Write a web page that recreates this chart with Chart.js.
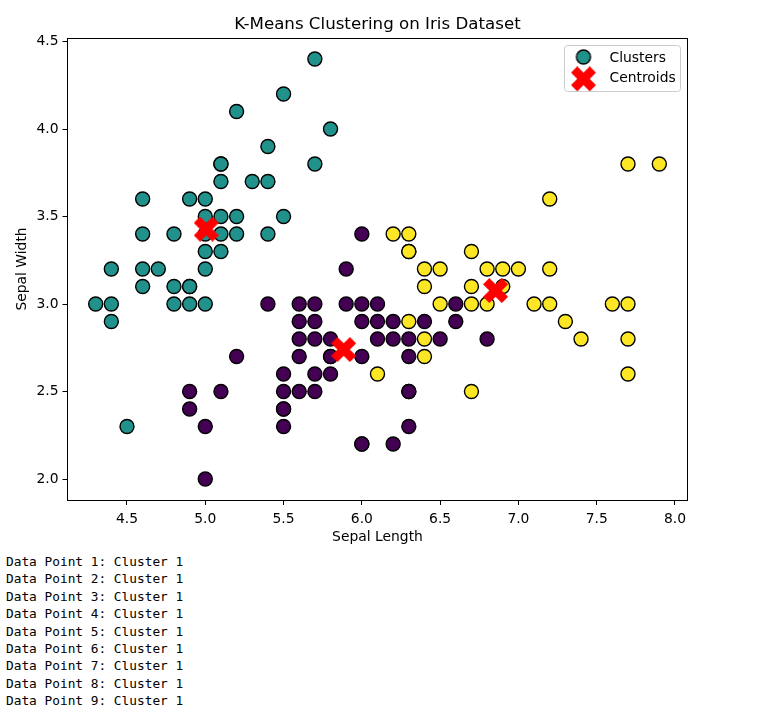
<!DOCTYPE html>
<html>
<head>
<meta charset="utf-8">
<script src="https://cdn.jsdelivr.net/npm/chart.js@4/dist/chart.umd.min.js"></script>
<style>
html,body{margin:0;padding:0;background:#fff;overflow:hidden;width:782px;height:705px}
#wrap{position:absolute;left:0;top:0;width:782px;height:545px}
#out{position:absolute;left:6px;top:553px;margin:0;font:12.8px/17.4px "DejaVu Sans Mono",monospace;color:#000}
</style>
</head>
<body>
<div id="wrap"><canvas id="c" width="782" height="545"></canvas></div>
<pre id="out"></pre>
<script>
// Cluster values
const purpleX = [6.0,5.9,5.4,5.6,5.7,5.9,6.0,6.1,6.6,5.6,5.7,6.0,6.1,6.2,6.4,6.6,5.6,5.7,5.8,6.1,6.2,6.3,6.5,6.8,5.2,5.6,5.8,6.0,6.3,5.5,5.7,5.8,4.9,5.1,5.5,5.6,5.7,6.3,6.3,4.9,5.5,5.5,5.0,5.5,6.3,6.0,6.0,6.2,5.0,5.8];
const purpleY = [3.4,3.2,3.0,3.0,3.0,3.0,3.0,3.0,3.0,2.9,2.9,2.9,2.9,2.9,2.9,2.9,2.8,2.8,2.8,2.8,2.8,2.8,2.8,2.8,2.7,2.7,2.7,2.7,2.7,2.6,2.6,2.6,2.5,2.5,2.5,2.5,2.5,2.5,2.5,2.4,2.4,2.4,2.3,2.3,2.3,2.2,2.2,2.2,2.0,2.7];
const tealX = [5.7,5.5,5.2,5.8,5.4,5.1,5.1,5.7,5.1,5.3,5.4,4.6,4.9,5.0,5.0,5.1,5.2,5.5,4.6,4.8,5.0,5.1,5.2,5.4,5.0,5.1,4.4,4.6,4.7,5.0,4.6,4.8,4.9,4.9,4.3,4.4,4.8,4.9,5.0,4.4,4.5];
const tealY = [4.4,4.2,4.1,4.0,3.9,3.8,3.8,3.8,3.7,3.7,3.7,3.6,3.6,3.6,3.5,3.5,3.5,3.5,3.4,3.4,3.4,3.4,3.4,3.4,3.3,3.3,3.2,3.2,3.2,3.2,3.1,3.1,3.1,3.1,3.0,3.0,3.0,3.0,3.0,2.9,2.3];
const yellowX = [7.7,7.9,7.2,6.2,6.3,6.3,6.3,6.7,6.4,6.5,6.8,6.9,7.0,7.2,6.4,6.7,6.9,6.5,6.7,6.8,7.1,7.2,7.6,7.7,6.3,7.3,6.4,7.4,7.7,6.4,6.1,7.7,6.7];
const yellowY = [3.8,3.8,3.6,3.4,3.4,3.3,3.3,3.3,3.2,3.2,3.2,3.2,3.2,3.2,3.1,3.1,3.1,3.0,3.0,3.0,3.0,3.0,3.0,3.0,2.9,2.9,2.8,2.8,2.8,2.7,2.6,2.6,2.5];
const centroidX = [5.006,5.884,6.854];
const centroidY = [3.428,2.740,3.077];
const xTicks = [4.5,5.0,5.5,6.0,6.5,7.0,7.5,8.0];
const yTicks = [2.0,2.5,3.0,3.5,4.0,4.5];
const xRange = [4.12,8.08];
const yRange = [1.88,4.52];
const outputLabels = [1,2,3,4,5,6,7,8,9];
const outputCluster = 1;

const PURPLE='#440154', TEAL='#21918c', YELLOW='#fde725', RED='#ff0000';
const FONT='"DejaVu Sans"';
const zip=(xs,ys)=>xs.map((x,i)=>({x,y:ys[i]}));

function xMarker(size){
  const c=document.createElement('canvas');c.width=c.height=size;
  const g=c.getContext('2d');const u=size/4;const m=size/2;
  const v=[[-1,-2],[0,-1],[1,-2],[2,-1],[1,0],[2,1],[1,2],[0,1],[-1,2],[-2,1],[-1,0],[-2,-1]];
  g.fillStyle=RED;g.beginPath();
  v.forEach((p,i)=>{const a=m+p[0]*u,b=m+p[1]*u;i?g.lineTo(a,b):g.moveTo(a,b);});
  g.closePath();g.fill();
  return c;
}
function circleMarker(){
  const c=document.createElement('canvas');c.width=c.height=18;
  const g=c.getContext('2d');
  g.fillStyle=TEAL;g.strokeStyle='#000';g.lineWidth=1.4;
  g.beginPath();g.arc(9,8,7,0,Math.PI*2);g.fill();g.stroke();
  return c;
}
const xImg=xMarker(25), circImg=circleMarker();

const framePlugin={
  id:'frame',
  beforeDraw(chart){
    const l=chart.legend;
    l.left=557.5;l.top=44;l.right=680;l.bottom=200;
    const g=chart.ctx;
    g.save();
    g.fillStyle='#ffffff';g.strokeStyle='#cccccc';g.lineWidth=1;
    g.beginPath();g.roundRect(564.5,45.5,116,46,3);g.fill();g.stroke();
    g.restore();
  },
  afterDraw(chart){
    const a=chart.chartArea,g=chart.ctx;
    g.save();g.strokeStyle='#000';g.lineWidth=1;
    g.strokeRect(Math.floor(a.left)+0.5,Math.floor(a.top)+0.5,a.right-a.left,a.bottom-a.top);
    g.restore();
  }
};

const circle=(label,xs,ys,color,order)=>({label,data:zip(xs,ys),order,
  pointStyle:'circle',pointRadius:7,pointHoverRadius:7,backgroundColor:color,borderColor:'#000',pointBorderWidth:1.4,borderWidth:1.4,showLine:false});

const axis=(title,ticks,range,size,titlePad,tickPad)=>({
  type:'linear',min:range[0],max:range[1],
  afterBuildTicks:s=>{s.ticks=ticks.map(v=>({value:v}));},
  afterFit:s=>{if(s.isHorizontal())s.height=size;else s.width=size;},
  border:{display:false},
  grid:{display:true,drawOnChartArea:false,drawTicks:true,tickLength:5,tickColor:'#000',tickWidth:1},
  ticks:{color:'#000',font:{family:FONT,size:13.89},padding:tickPad,maxRotation:0,autoSkip:false,callback:v=>Number(v).toFixed(1)},
  title:{display:true,text:title,color:'#000',font:{family:FONT,size:13.89},padding:titlePad}
});

new Chart(document.getElementById('c'),{
  type:'scatter',
  plugins:[framePlugin],
  data:{datasets:[
    circle('Cluster A',purpleX,purpleY,PURPLE,3),
    circle('Clusters',tealX,tealY,TEAL,2),
    circle('Cluster C',yellowX,yellowY,YELLOW,1),
    {label:'Centroids',data:zip(centroidX,centroidY),order:0,pointStyle:xImg,pointRadius:12,pointHoverRadius:12,backgroundColor:RED,borderColor:RED,showLine:false}
  ]},
  options:{
    responsive:false,animation:false,devicePixelRatio:1,
    layout:{padding:{left:0,right:94.5,top:0,bottom:0}},
    events:[],
    plugins:{
      tooltip:{enabled:false},
      title:{display:true,text:'K-Means Clustering on Iris Dataset',color:'#000',fullSize:false,
        font:{family:FONT,size:16.67,weight:'normal'},padding:{top:15,bottom:3}},
      legend:{display:true,position:'chartArea',align:'start',
        labels:{usePointStyle:true,pointStyleWidth:38,boxHeight:14,padding:7,color:'#000',
          font:{family:FONT,size:13.89},
          generateLabels(chart){
            return Chart.defaults.plugins.legend.labels.generateLabels(chart)
              .filter(i=>i.text==='Clusters'||i.text==='Centroids').reverse()
              .map(i=>({...i,pointStyle:i.text==='Clusters'?circImg:xImg}));
          }}}
    },
    scales:{
      x:axis('Sepal Length',xTicks,xRange,45,{top:5,bottom:-1},6),
      y:axis('Sepal Width',yTicks,yRange,67.5,{top:14,bottom:4},4)
    }
  }
});
document.getElementById('out').textContent=outputLabels.map(n=>`Data Point ${n}: Cluster ${outputCluster}`).join('\n');
</script>
</body>
</html>
